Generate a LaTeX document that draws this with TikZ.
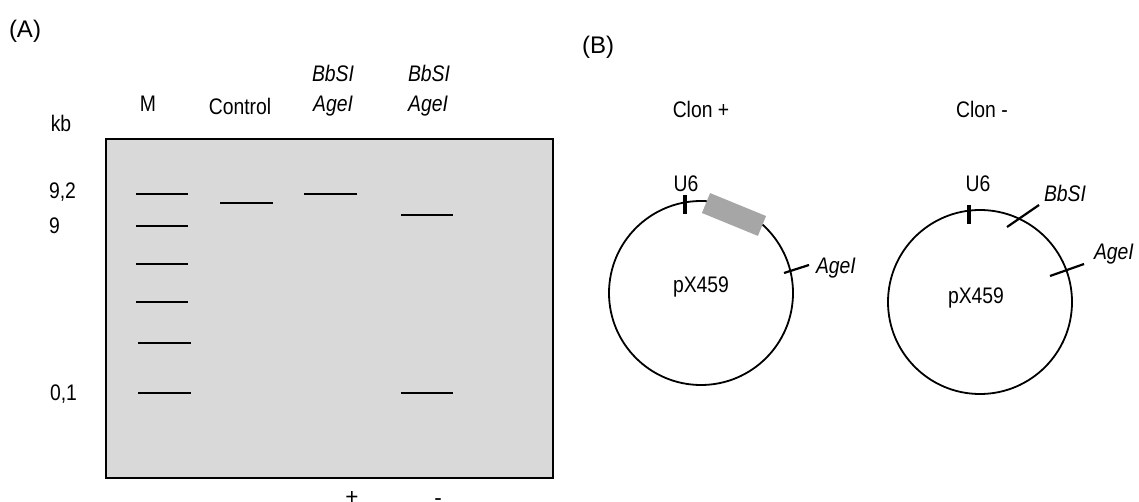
\documentclass[tikz,border=0pt]{standalone}
\usepackage{fontspec}
\setmainfont{Liberation Sans}
\newcommand{\nar}[1]{\scalebox{0.86}[1]{#1}}
\definecolor{gelgray}{HTML}{D9D9D9}
\definecolor{insgray}{HTML}{A6A6A6}
\begin{document}
\begin{tikzpicture}[x=1pt,y=-1pt,
  every node/.style={inner sep=0pt, outer sep=0pt},
  lbl/.style={font=\fontsize{22.5}{26}\selectfont},
  big/.style={font=\fontsize{24}{28}\selectfont},
  band/.style={line width=2.8pt},
  plasmid/.style={circle, draw, line width=1.8pt, minimum size=184pt},
  site/.style={line width=2.2pt},
  u6tick/.style={line width=3.2pt}]
\useasboundingbox (0,0) rectangle (1139,502);

% ---------- Panel A ----------
\node[big, anchor=base] (pa) at (25,38) {(A)};
\node[lbl, anchor=base] (kb) at (61,132) {\nar{kb}};
\node[lbl, anchor=base] (lm) at (148,112) {\nar{M}};
\node[lbl, anchor=base] (lc) at (240,115) {\nar{Control}};
\node[lbl, anchor=base] (l3a) at (333,82) {\nar{\itshape BbSI}};
\node[lbl, anchor=base] (l3b) at (333,112) {\nar{\itshape AgeI}};
\node[lbl, anchor=base] (l4a) at (429,82) {\nar{\itshape BbSI}};
\node[lbl, anchor=base] (l4b) at (428,112) {\nar{\itshape AgeI}};

\draw[line width=2pt, fill=gelgray] (106,139) rectangle (553,478);

% marker lane
\draw[band] (136,194) -- (188,194);
\draw[band] (136,226) -- (188,226);
\draw[band] (136,264) -- (188,264);
\draw[band] (136,302) -- (188,302);
\draw[band] (138,343) -- (191,343);
\draw[band] (138,393) -- (191,393);
% control
\draw[band] (220,203) -- (273,203);
% lane 3
\draw[band] (304,194) -- (357,194);
% lane 4
\draw[band] (401,215) -- (453,215);
\draw[band] (401,393) -- (453,393);

\node[lbl, anchor=west] (s92) at (49,192) {\nar{9,2}};
\node[lbl, anchor=west] (s9) at (49,226) {\nar{9}};
\node[lbl, anchor=west] (s01) at (50,394) {\nar{0,1}};

\node[lbl, anchor=base] (plus) at (352,504) {+};
\node[lbl, anchor=base] (minus) at (438,505) {-};

% ---------- Panel B ----------
\node[big, anchor=base] (pb) at (598,54) {(B)};
\node[lbl, anchor=base] (cp) at (701,118) {\nar{Clon +}};
\node[lbl, anchor=base] (cm) at (982,118) {\nar{Clon -}};

% left plasmid
\node[plasmid] (c1) at (701,293) {};
\node[lbl, anchor=base] (px1) at (701,293) {\nar{pX459}};
\node[lbl, anchor=base] (u61) at (686,192) {\nar{U6}};
\draw[u6tick] (685,195) -- (685,214);
\node[fill=insgray, minimum width=60.5pt, minimum height=21.5pt, rotate=-22.3] (ins) at (734,214.5) {};
\draw[site] (784,273) -- (809,265);
\node[lbl, anchor=base west] (ag1) at (816,273) {\nar{\itshape AgeI}};

% right plasmid
\node[plasmid] (c2) at (980,302) {};
\node[lbl, anchor=base] (px2) at (976,303) {\nar{pX459}};
\node[lbl, anchor=base] (u62) at (978,192) {\nar{U6}};
\draw[u6tick] (969,205) -- (969,224);
\draw[site] (1007,227) -- (1039,205);
\node[lbl, anchor=base west] (bb2) at (1044,202) {\nar{\itshape BbSI}};
\draw[site] (1050,276) -- (1084,264);
\node[lbl, anchor=base west] (ag2) at (1094,260) {\nar{\itshape AgeI}};
\end{tikzpicture}
\end{document}
